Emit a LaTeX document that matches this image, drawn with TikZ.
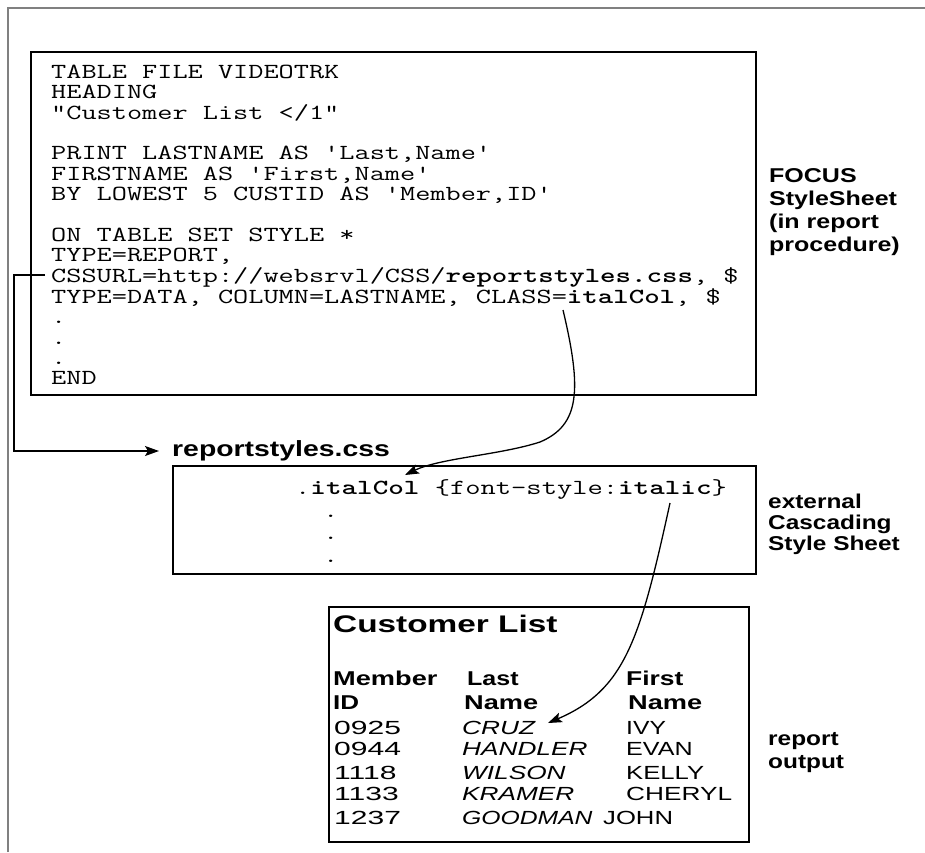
\documentclass[tikz,border=0pt]{standalone}
\usepackage{fontspec}
\setmainfont{Liberation Sans}
\usepackage{graphicx}
\usetikzlibrary{arrows.meta}
\newcommand{\sx}[2]{\scalebox{#1}[1]{#2}}
\newcommand{\codesize}{\fontsize{21.5}{20.3}\selectfont}
\begin{document}
\begin{tikzpicture}[x=1pt,y=-1pt,
  box/.style={draw=black,line width=1.7pt,inner sep=0,anchor=north west},
  tx/.style={anchor=base west,inner sep=0},
  hd/.style={tx,font=\bfseries\fontsize{20}{24}\selectfont},
  dt/.style={tx,font=\fontsize{19}{24}\selectfont},
  it/.style={tx,font=\itshape\fontsize{19}{24}\selectfont},
  wire/.style={line width=1.3pt},
  tip/.style={-{Stealth[length=14pt,width=10pt,inset=3pt]}}]
\useasboundingbox (0,0) rectangle (925,852);
\fill[white] (0,0) rectangle (925,852);
\draw[draw=gray,line width=2.5pt] (8,852) -- (8,8) -- (925,8);

% FOCUS StyleSheet box
\node[box,minimum width=725pt,minimum height=343pt] (focusbox) at (30,51) {};
\node[tx] (code) at (51,78) {\sx{1.37}{\ttfamily\codesize
\begin{tabular}[t]{@{}l@{}}
TABLE FILE VIDEOTRK\\
HEADING\\
"Customer List </1"\\
\\
PRINT LASTNAME AS 'Last,Name'\\
FIRSTNAME AS 'First,Name'\\
BY LOWEST 5 CUSTID AS 'Member,ID'\\
\\
ON TABLE SET STYLE *\\
TYPE=REPORT,\\
CSSURL=http://websrvl/CSS/\textbf{reportstyles.css}, \$\\
TYPE=DATA, COLUMN=LASTNAME, CLASS=\textbf{italCol}, \$\\
.\\
.\\
.\\
END
\end{tabular}}};
\node[tx] (focuslbl) at (769,182) {\sx{1.25}{\bfseries\fontsize{20}{23.3}\selectfont
\begin{tabular}[t]{@{}l@{}}FOCUS\\StyleSheet\\(in report\\procedure)\end{tabular}}};

% external CSS
\node[anchor=west,inner sep=0] (rs) at (172,451) {\sx{1.29}{\bfseries\fontsize{22}{26}\selectfont reportstyles.css}};
\node[box,minimum width=583pt,minimum height=108pt] (cssbox) at (172,465) {};
\node[tx] (cssline) at (295,494) {\sx{1.38}{\ttfamily\codesize .\textbf{italCol} \{font-style:\textbf{italic}\}}};
\node[tx] (cssdots) at (323,517) {\sx{1.38}{\ttfamily\fontsize{21.5}{22.5}\selectfont
\begin{tabular}[t]{@{}l@{}}.\\.\\.\end{tabular}}};
\node[tx] (csslbl) at (768,508) {\sx{1.22}{\bfseries\fontsize{20}{21}\selectfont
\begin{tabular}[t]{@{}l@{}}external\\Cascading\\Style Sheet\end{tabular}}};

% report output
\node[box,minimum width=420pt,minimum height=235pt] (report) at (328,606) {};
\node[tx] (title) at (333,632) {\sx{1.39}{\bfseries\fontsize{24}{28}\selectfont Customer List}};
\node[hd] (h1) at (333,685) {\sx{1.36}{Member}};
\node[hd] (h2) at (467,685) {\sx{1.25}{Last}};
\node[hd] (h3) at (626,685) {\sx{1.32}{First}};
\node[hd] (h4) at (333,709) {\sx{1.3}{ID}};
\node[hd] (h5) at (464,709) {\sx{1.36}{Name}};
\node[hd] (h6) at (628,709) {\sx{1.36}{Name}};
\node[dt] (id1) at (334,734) {\sx{1.58}{0925}};
\node[dt] (id2) at (334,755.5) {\sx{1.58}{0944}};
\node[dt] (id3) at (334,779) {\sx{1.58}{1118}};
\node[dt] (id4) at (334,800.5) {\sx{1.58}{1133}};
\node[dt] (id5) at (334,824) {\sx{1.58}{1237}};
\node[it] (ln1) at (462,734) {\sx{1.38}{CRUZ}};
\node[it] (ln2) at (462,755.5) {\sx{1.38}{HANDLER}};
\node[it] (ln3) at (462,779) {\sx{1.38}{WILSON}};
\node[it] (ln4) at (462,800.5) {\sx{1.38}{KRAMER}};
\node[it] (ln5) at (462,824) {\sx{1.3}{GOODMAN}};
\node[dt] (fn1) at (626,734) {\sx{1.3}{IVY}};
\node[dt] (fn2) at (626,755.5) {\sx{1.32}{EVAN}};
\node[dt] (fn3) at (626,779) {\sx{1.35}{KELLY}};
\node[dt] (fn4) at (626,800.5) {\sx{1.38}{CHERYL}};
\node[dt] (fn5) at (603,824) {\sx{1.35}{JOHN}};
\node[tx] (replbl) at (768,745) {\sx{1.22}{\bfseries\fontsize{20}{23}\selectfont
\begin{tabular}[t]{@{}l@{}}report\\output\end{tabular}}};

% connectors
\coordinate (cssfrom) at (45,275);
\coordinate (classfrom) at (563,310);
\coordinate (italcolto) at (405,475);
\coordinate (italicfrom) at (670,503);
\coordinate (cruzto) at (548,723);
\draw[wire,tip,shorten >=13pt] (cssfrom) -- (14,275) |- (rs.west);
\draw[wire,tip] (classfrom) .. controls (582,390) and (580,425) .. (540,442)
   .. controls (500,455) and (440,458) .. (italcolto);
\draw[wire,tip] (italicfrom) .. controls (640,640) and (625,690) .. (cruzto);
\end{tikzpicture}
\end{document}
